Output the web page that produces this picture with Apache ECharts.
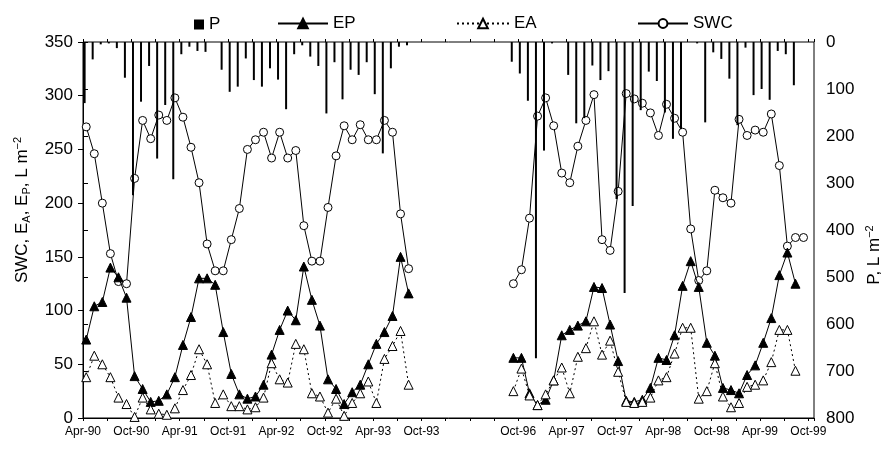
<!DOCTYPE html>
<html>
<head>
<meta charset="utf-8">
<script src="https://cdn.jsdelivr.net/npm/echarts@6/dist/echarts.min.js"></script>
<style>
html, body { margin: 0; padding: 0; background: #fff; }
#chart { width: 891px; height: 454px; }
</style>
</head>
<body>
<div id="chart"></div>
<script>
// month index on the shortened axis: Apr-90 = 0, Oct-93 = 42, Oct-96 = 54, Oct-99 = 90
var start1 = 0;
var start2 = 53;

var swc1 = [271, 246, 200, 153, 127, 125, 223, 277, 260, 282, 277, 298, 280, 252, 219, 162, 137, 137, 166, 195,
            250, 259, 266, 242, 266, 242, 249, 179, 146, 146, 196, 244, 272, 259, 273, 259, 259, 277, 266, 190, 139];
var ep1  = [73, 104, 108, 140, 131, 112, 39, 27, 15, 16, 22, 38, 68, 94, 130, 130, 124, 80, 41, 22,
            18, 20, 31, 59, 82, 100, 91, 141, 110, 86, 36, 27, 13, 24, 31, 50, 69, 80, 95, 150, 116];
var ea1  = [38, 58, 50, 38, 19, 13, 1, 19, 8, 4, 3, 9, 26, 40, 64, 50, 14, 22, 11, 11,
            8, 10, 19, 51, 36, 33, 69, 64, 23, 20, 5, 18, 2, 14, 23, 34, 14, 55, 67, 81, 31];
var p1   = [130, 37, 5, 3, 13, 76, 326, 127, 51, 248, 134, 292, 26, 10, 19, 21, 0, 59, 106, 95,
            35, 81, 95, 56, 80, 143, 26, 7, 31, 51, 152, 43, 122, 59, 70, 43, 111, 237, 56, 10, 7];

var swc2 = [125, 138, 186, 281, 298, 272, 228, 219, 253, 277, 301, 166, 156, 211, 302, 297, 293, 284, 263, 292,
            279, 266, 176, 128, 137, 212, 205, 200, 278, 263, 268, 266, 283, 235, 160, 168, 168];
var ep2  = [56, 56, 23, 12, 17, 35, 77, 82, 86, 90, 122, 121, 87, 53, 16, 15, 17, 28, 56, 54,
            77, 123, 146, 122, 70, 58, 28, 26, 23, 40, 49, 70, 93, 133, 154, 125];
var ea2  = [25, 46, 21, 12, 22, 35, 47, 23, 57, 65, 90, 59, 72, 43, 15, 14, 15, 19, 35, 38,
            60, 84, 84, 18, 25, 51, 20, 10, 14, 29, 31, 35, 52, 82, 82, 44];
var p2   = [42, 67, 125, 673, 231, 3, 0, 70, 173, 162, 50, 81, 62, 334, 534, 349, 145, 63, 83, 150,
            206, 185, 0, 3, 171, 22, 36, 78, 177, 12, 113, 100, 123, 19, 26, 92];

var labelIdx  = [0, 6, 12, 18, 24, 30, 36, 42, 54, 60, 66, 72, 78, 84, 90];
var labelText = ['Apr-90', 'Oct-90', 'Apr-91', 'Oct-91', 'Apr-92', 'Oct-92', 'Apr-93', 'Oct-93',
                 'Oct-96', 'Apr-97', 'Oct-97', 'Apr-98', 'Oct-98', 'Apr-99', 'Oct-99'];

function pts(arr, start, off) {
    var out = [];
    for (var i = 0; i < arr.length; i++) {
        out.push([start + i + off, arr[i]]);
    }
    return out;
}
function joined(a, b, off) {
    return pts(a, start1, off).concat([[47, '-']], pts(b, start2, off));
}

var font = 'Liberation Sans, Arial, sans-serif';
var legendText = { fontSize: 17, color: '#000', fontFamily: font };

var xBase = {
    type: 'value',
    min: 0,
    max: 90.7,
    interval: 3,
    position: 'bottom',
    splitLine: { show: false }
};

var option = {
    animation: false,
    backgroundColor: '#fff',
    grid: { left: 83, right: 77, top: 42, bottom: 36, show: true, borderColor: '#000', borderWidth: 1 },
    legend: [
        { data: ['P'], left: 189, top: 11, itemWidth: 10, itemHeight: 10, icon: 'rect', textStyle: legendText },
        { data: ['EP'], left: 272, top: 10, itemWidth: 50, itemHeight: 12, textStyle: legendText },
        { data: ['EA'], left: 451, top: 10, itemWidth: 52, itemHeight: 12, textStyle: legendText },
        { data: ['SWC'], left: 632, top: 10, itemWidth: 50, itemHeight: 11, textStyle: legendText }
    ],
    xAxis: [
        Object.assign({}, xBase, {
            axisLine: { lineStyle: { color: '#000', width: 1 } },
            axisTick: { length: 3, lineStyle: { color: '#000' } },
            axisLabel: {
                margin: 8, fontSize: 12, color: '#000', fontFamily: font,
                formatter: function (v) {
                    var k = labelIdx.indexOf(Math.round(v));
                    return (k >= 0 && Math.abs(v - Math.round(v)) < 0.01) ? labelText[k] : '';
                }
            }
        }),
        Object.assign({}, xBase, {
            axisLine: { show: false },
            axisTick: { inside: true, length: 3, lineStyle: { color: '#000' } },
            axisLabel: { show: false }
        })
    ],
    yAxis: [
        {
            type: 'value', min: 0, max: 350, interval: 50,
            axisLine: { show: true, lineStyle: { color: '#000' } },
            axisTick: { show: true, length: 5, lineStyle: { color: '#000' } },
            axisLabel: { margin: 10, fontSize: 17, color: '#000', fontFamily: font },
            splitLine: { show: false }
        },
        {
            type: 'value', min: 0, max: 800, interval: 100, inverse: true, position: 'right',
            axisLine: { show: true, lineStyle: { color: '#000' } },
            axisTick: { show: true, length: 5, lineStyle: { color: '#000' } },
            axisLabel: { margin: 12, fontSize: 17, color: '#000', fontFamily: font },
            splitLine: { show: false }
        }
    ],
    graphic: [
        {
            type: 'text', x: 22, y: 210, rotation: Math.PI / 2,
            style: {
                text: '{n|SWC, E}{s|A}{n|, E}{s|P}{n|, L m}{u|\u22122}',
                align: 'center', verticalAlign: 'middle',
                rich: {
                    n: { fontSize: 17, fontFamily: font, fill: '#000', lineHeight: 20, verticalAlign: 'middle' },
                    s: { fontSize: 11, fontFamily: font, fill: '#000', lineHeight: 20, verticalAlign: 'bottom', padding: [6, 0, 0, 0] },
                    u: { fontSize: 11, fontFamily: font, fill: '#000', lineHeight: 20, verticalAlign: 'top', padding: [0, 0, 6, 0] }
                }
            }
        },
        {
            type: 'text', x: 874, y: 255, rotation: Math.PI / 2,
            style: {
                text: '{n|P, L m}{u|\u22122}',
                align: 'center', verticalAlign: 'middle',
                rich: {
                    n: { fontSize: 17, fontFamily: font, fill: '#000', lineHeight: 20, verticalAlign: 'middle' },
                    u: { fontSize: 11, fontFamily: font, fill: '#000', lineHeight: 20, verticalAlign: 'top', padding: [0, 0, 6, 0] }
                }
            }
        }
    ],
    series: [
        {
            name: 'P', type: 'bar', yAxisIndex: 1, barWidth: 2, z: 5,
            itemStyle: { color: '#000' },
            data: pts(p1, start1, 0.2).concat(pts(p2, start2, 0.2))
        },
        {
            name: 'EP', type: 'line', symbol: 'triangle', symbolSize: 9, z: 3,
            lineStyle: { color: '#000', width: 1 },
            itemStyle: { color: '#000', borderColor: '#000', borderWidth: 1 },
            data: joined(ep1, ep2, 0.4)
        },
        {
            name: 'EA', type: 'line', symbol: 'triangle', symbolSize: 9, z: 4,
            lineStyle: { color: '#000', width: 1, type: [2, 3] },
            itemStyle: { color: '#fff', borderColor: '#000', borderWidth: 1 },
            data: joined(ea1, ea2, 0.4)
        },
        {
            name: 'SWC', type: 'line', symbol: 'circle', symbolSize: 8, z: 2,
            lineStyle: { color: '#000', width: 1 },
            itemStyle: { color: '#fff', borderColor: '#000', borderWidth: 1 },
            data: joined(swc1, swc2, 0.4)
        }
    ]
};

var chart = echarts.init(document.getElementById('chart'), null, { renderer: 'canvas' });
chart.setOption(option);
</script>
</body>
</html>
